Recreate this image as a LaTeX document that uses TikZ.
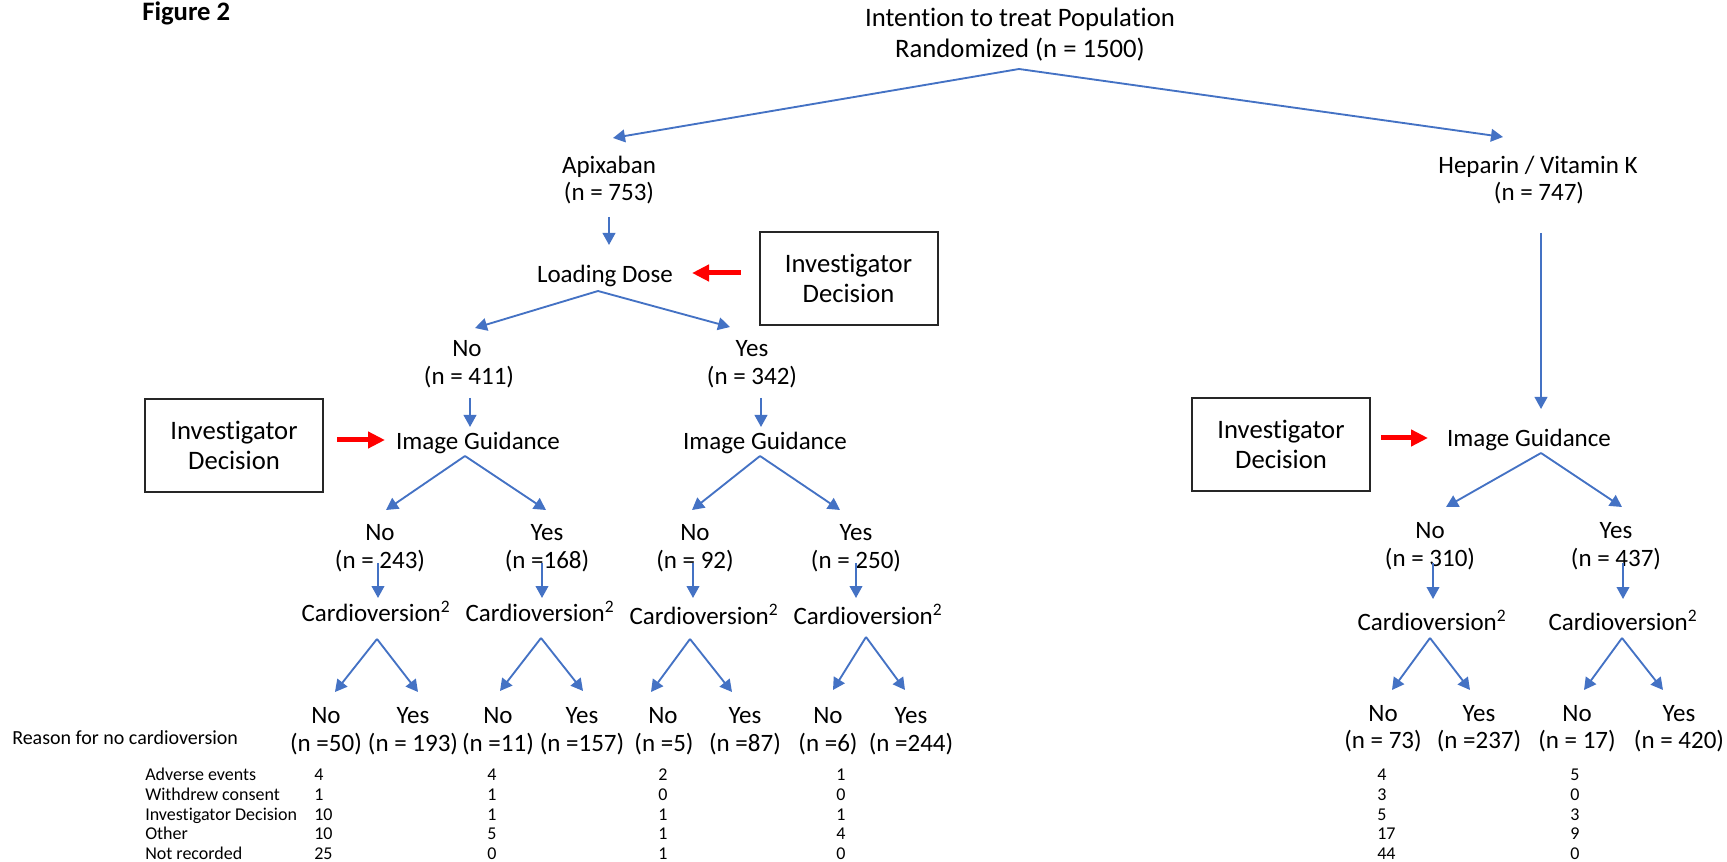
\documentclass[tikz,border=0pt]{standalone}
\usepackage{fontspec}
\setmainfont{Carlito}[Ligatures={NoCommon}]
\usetikzlibrary{arrows.meta}
\definecolor{arrowblue}{HTML}{4472C4}
\begin{document}
\begin{tikzpicture}[x=0.75pt,y=-0.75pt,
 lbl/.style={font=\fontsize{18.75}{22}\selectfont, inner sep=0pt, anchor=base},
 ttl/.style={font=\fontsize{20}{24}\selectfont, inner sep=0pt, anchor=base},
 tbl/.style={font=\fontsize{13.5}{16}\selectfont, inner sep=0pt, anchor=base west},
 arr/.style={draw=arrowblue, line width=1.4pt, -{Triangle[length=9pt,width=9.5pt]}},
 redarr/.style={draw=red, line width=3.75pt, -{Triangle[length=12.75pt,width=12pt]}},
 decbox/.style={draw=black!85, line width=1.5pt, minimum width=133.5pt, minimum height=69.75pt, inner sep=0pt, align=center, font=\fontsize{20}{22.5}\selectfont}]
\useasboundingbox (0,0) rectangle (1727,862);

% ---------- text nodes ----------
\node[font=\fontsize{20}{24}\selectfont\bfseries, inner sep=0pt, anchor=base west] (fig) at (142,21) {Figure 2};
\node[ttl] (t1) at (1020,27) {Intention to treat Population};
\node[ttl] (t2) at (1020,58) {Randomized (n = 1500)};

\node[lbl] (apix) at (609,174) {Apixaban};
\node[lbl] (apixn) at (609,201) {(n = 753)};
\node[lbl] (hep) at (1538,174) {Heparin / Vitamin K};
\node[lbl] (hepn) at (1539,201) {(n = 747)};

\node[lbl] (ld) at (605,283) {Loading Dose};
\node[decbox] (box1) at (848.5,278.5) {Investigator\\Decision};

\node[lbl] (no1) at (467,357) {No};
\node[lbl] (no1n) at (469,385) {(n = 411)};
\node[lbl] (yes1) at (752,357) {Yes};
\node[lbl] (yes1n) at (752,385) {(n = 342)};

\node[decbox] (box2) at (234,445.5) {Investigator\\Decision};
\node[lbl] (ig1) at (478,450) {Image Guidance};
\node[lbl] (ig2) at (765,450) {Image Guidance};

\node[lbl] (no2) at (380,540) {No};
\node[lbl] (no2n) at (380,568) {(n = 243)};
\node[lbl] (yes2) at (547,540) {Yes};
\node[lbl] (yes2n) at (547,568) {(n =168)};
\node[lbl] (no3) at (695,540) {No};
\node[lbl] (no3n) at (695,568) {(n = 92)};
\node[lbl] (yes3) at (856,540) {Yes};
\node[lbl] (yes3n) at (856,568) {(n = 250)};

\node[lbl] (c1) at (376,621) {Cardioversion\textsuperscript{2}};
\node[lbl] (c2) at (540,621) {Cardioversion\textsuperscript{2}};
\node[lbl] (c3) at (704,624) {Cardioversion\textsuperscript{2}};
\node[lbl] (c4) at (868,624) {Cardioversion\textsuperscript{2}};

\node[lbl] (no4) at (326,723) {No};
\node[lbl] (no4n) at (326,751) {(n =50)};
\node[lbl] (yes4) at (413,723) {Yes};
\node[lbl] (yes4n) at (413,751) {(n = 193)};
\node[lbl] (no5) at (498,723) {No};
\node[lbl] (no5n) at (498,751) {(n =11)};
\node[lbl] (yes5) at (582,723) {Yes};
\node[lbl] (yes5n) at (582,751) {(n =157)};
\node[lbl] (no6) at (663,723) {No};
\node[lbl] (no6n) at (664,751) {(n =5)};
\node[lbl] (yes6) at (745,723) {Yes};
\node[lbl] (yes6n) at (745,751) {(n =87)};
\node[lbl] (no7) at (828,723) {No};
\node[lbl] (no7n) at (828,751) {(n =6)};
\node[lbl] (yes7) at (911,723) {Yes};
\node[lbl] (yes7n) at (911,751) {(n =244)};

% right branch
\node[decbox] (box3) at (1281,444.5) {Investigator\\Decision};
\node[lbl] (ig3) at (1529,447) {Image Guidance};
\node[lbl] (no8) at (1430,538) {No};
\node[lbl] (no8n) at (1430,566) {(n = 310)};
\node[lbl] (yes8) at (1616,538) {Yes};
\node[lbl] (yes8n) at (1616,566) {(n = 437)};
\node[lbl] (c5) at (1432,630) {Cardioversion\textsuperscript{2}};
\node[lbl] (c6) at (1623,630) {Cardioversion\textsuperscript{2}};
\node[lbl] (no9) at (1383,721) {No};
\node[lbl] (no9n) at (1383,748) {(n = 73)};
\node[lbl] (yes9) at (1479,721) {Yes};
\node[lbl] (yes9n) at (1479,748) {(n =237)};
\node[lbl] (no10) at (1577,721) {No};
\node[lbl] (no10n) at (1577,748) {(n = 17)};
\node[lbl] (yes10) at (1679,721) {Yes};
\node[lbl] (yes10n) at (1679,748) {(n = 420)};

% reasons table
\node[font=\fontsize{15}{18}\selectfont, inner sep=0pt, anchor=base west] (reason) at (12,744) {Reason for no cardioversion};
\foreach \lab/\yy [count=\i] in {Adverse events/780, Withdrew consent/800, Investigator Decision/820, Other/839, Not recorded/859}
  \node[tbl] (row\i) at (145,\yy) {\lab};
\foreach \xx/\va/\vb/\vc/\vd/\ve [count=\k] in {314/4/1/10/10/25, 487/4/1/1/5/0, 658/2/0/1/1/1, 836/1/0/1/4/0, 1377/4/3/5/17/44, 1570/5/0/3/9/0}{
  \node[tbl] (v\k a) at (\xx,780) {\va};
  \node[tbl] (v\k b) at (\xx,800) {\vb};
  \node[tbl] (v\k c) at (\xx,820) {\vc};
  \node[tbl] (v\k d) at (\xx,839) {\vd};
  \node[tbl] (v\k e) at (\xx,859) {\ve};
}

% ---------- connectors ----------
\draw[arr] ([shift={(-1,11)}]t2.base) -- ([shift={(4,-36)}]apix.base);
\draw[arr] ([shift={(-1,11)}]t2.base) -- ([shift={(-35,-37)}]hep.base);
\draw[arr] ([shift={(0,16)}]apixn.base) -- ([shift={(4,-38)}]ld.base);
\draw[redarr] ([shift={(-18,-5.5)}]box1.west) -- ([shift={(87,-10)}]ld.base);
\draw[arr] ([shift={(-7,8)}]ld.base) -- ([shift={(8,-29)}]no1.base);
\draw[arr] ([shift={(-7,8)}]ld.base) -- ([shift={(-22,-30)}]yes1.base);
\draw[arr] ([shift={(1,13)}]no1n.base) -- ([shift={(-8,-23)}]ig1.base);
\draw[arr] ([shift={(9,13)}]yes1n.base) -- ([shift={(-4,-23)}]ig2.base);
\draw[redarr] ([shift={(13,-5.5)}]box2.east) -- ([shift={(-93,-10)}]ig1.base);
\draw[arr] ([shift={(-13,6)}]ig1.base) -- ([shift={(6,-30)}]no2.base);
\draw[arr] ([shift={(-13,6)}]ig1.base) -- ([shift={(-1,-30)}]yes2.base);
\draw[arr] ([shift={(-5,6)}]ig2.base) -- ([shift={(-3,-30)}]no3.base);
\draw[arr] ([shift={(-5,6)}]ig2.base) -- ([shift={(-16,-30)}]yes3.base);
\draw[arr] ([shift={(-2,-5)}]no2n.base) -- ([shift={(2,-23)}]c1.base);
\draw[arr] ([shift={(-5,-5)}]yes2n.base) -- ([shift={(2,-23)}]c2.base);
\draw[arr] ([shift={(-2,-5)}]no3n.base) -- ([shift={(-11,-26)}]c3.base);
\draw[arr] ([shift={(0,-5)}]yes3n.base) -- ([shift={(-12,-26)}]c4.base);
\draw[arr] ([shift={(1,18)}]c1.base) -- ([shift={(9,-31)}]no4.base);
\draw[arr] ([shift={(1,18)}]c1.base) -- ([shift={(5,-31)}]yes4.base);
\draw[arr] ([shift={(1,17)}]c2.base) -- ([shift={(2,-32)}]no5.base);
\draw[arr] ([shift={(1,17)}]c2.base) -- ([shift={(1,-32)}]yes5.base);
\draw[arr] ([shift={(-14,15)}]c3.base) -- ([shift={(-12,-31)}]no6.base);
\draw[arr] ([shift={(-14,15)}]c3.base) -- ([shift={(-13,-31)}]yes6.base);
\draw[arr] ([shift={(-2,13)}]c4.base) -- ([shift={(5,-33)}]no7.base);
\draw[arr] ([shift={(-2,13)}]c4.base) -- ([shift={(-6,-33)}]yes7.base);

\draw[arr] ([shift={(2,32)}]hepn.base) -- ([shift={(12,-38)}]ig3.base);
\draw[redarr] ([shift={(10,-6.5)}]box3.east) -- ([shift={(-101,-9)}]ig3.base);
\draw[arr] ([shift={(12,6)}]ig3.base) -- ([shift={(16,-31)}]no8.base);
\draw[arr] ([shift={(12,6)}]ig3.base) -- ([shift={(6,-31)}]yes8.base);
\draw[arr] ([shift={(3,-3)}]no8n.base) -- ([shift={(1,-31)}]c5.base);
\draw[arr] ([shift={(7,-3)}]yes8n.base) -- ([shift={(0,-31)}]c6.base);
\draw[arr] ([shift={(-2,8)}]c5.base) -- ([shift={(9,-31)}]no9.base);
\draw[arr] ([shift={(-2,8)}]c5.base) -- ([shift={(-9,-31)}]yes9.base);
\draw[arr] ([shift={(-1,8)}]c6.base) -- ([shift={(7,-31)}]no10.base);
\draw[arr] ([shift={(-1,8)}]c6.base) -- ([shift={(-16,-31)}]yes10.base);
\end{tikzpicture}
\end{document}
